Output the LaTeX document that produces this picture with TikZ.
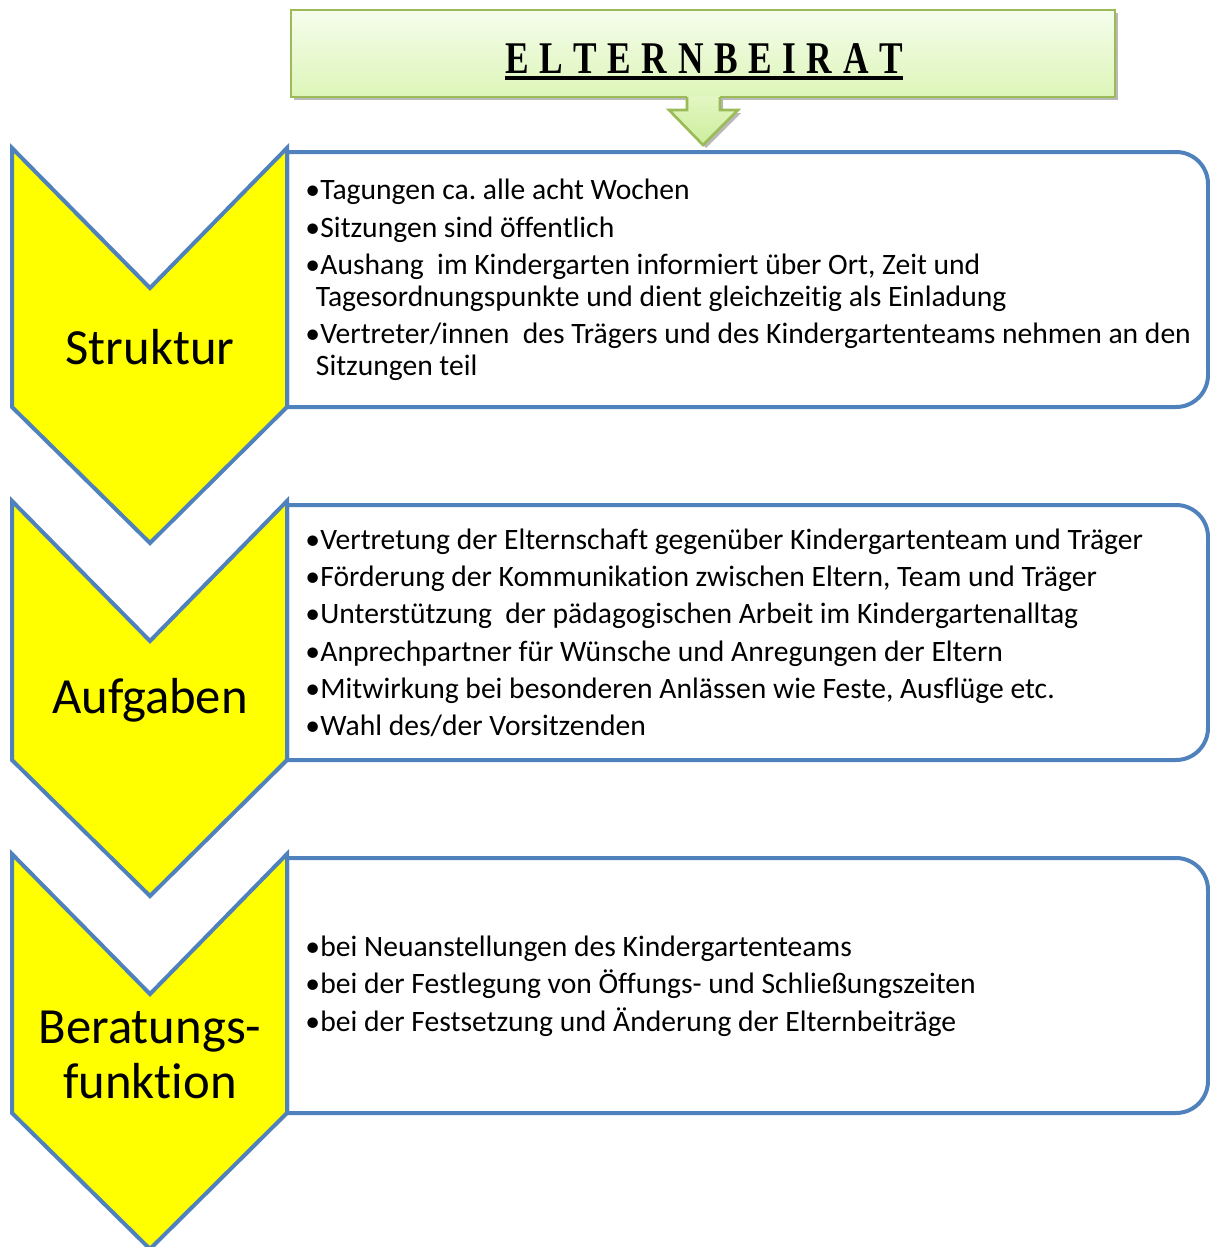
\documentclass[tikz,border=0pt]{standalone}
\usepackage{fontspec}
\usepackage{graphicx}
\setmainfont{Carlito}[Ligatures=NoCommon]
\newfontfamily\titlefont{Liberation Serif}
\frenchspacing
\definecolor{chevblue}{HTML}{4F81BD}
\definecolor{chevyellow}{HTML}{FFFF00}
\definecolor{headgreen}{HTML}{9BBB59}
\definecolor{headtop}{HTML}{F5FDEC}
\definecolor{headbot}{HTML}{DDF5B8}
\definecolor{arrowtop}{HTML}{E2F6C2}
\definecolor{arrowbot}{HTML}{CDEE9C}
\newcommand{\itm}{•\hspace{0.3pt}}
\begin{document}
\begin{tikzpicture}[x=0.75pt,y=-0.75pt,
  chevron/.style={draw=chevblue,fill=chevyellow,line width=3pt,line join=miter},
  listbox/.style={draw=chevblue,fill=white,line width=3pt},
  chevlabel/.style={font=\fontsize{38}{41}\selectfont,align=center,inner sep=0pt},
  itemtext/.style={font=\fontsize{22.2}{24}\selectfont,align=left,anchor=west,inner sep=0pt},
  headline/.style={draw=headgreen,line width=2pt,line join=miter}]
  \useasboundingbox (0,0) rectangle (1210,1247);
  % Header with shadow
  \fill[gray!55] (294,13) rectangle (1118,100);
  \shade[top color=headtop,bottom color=headbot] (291,10) rectangle (1115,97);
  \draw[headline] (291,10) rectangle (1115,97);
  \node[inner sep=0pt,anchor=base] (title) at (704,73)
    {\titlefont\bfseries\fontsize{34}{34}\selectfont\scalebox{0.78}[1]{%
      E\hspace{10.2pt}L\hspace{10.2pt}T\hspace{10.2pt}E\hspace{10.2pt}R\hspace{10.2pt}N\hspace{10.2pt}%
      B\hspace{10.2pt}E\hspace{10.2pt}I\hspace{10.2pt}R\hspace{10.2pt}A\hspace{10.2pt}T}};
  \draw[line width=3pt] ([yshift=-4pt]title.base west) -- ([yshift=-4pt]title.base east);
  % Arrow below header
  \fill[gray!55] (690,100) -- (690,113) -- (672,113) -- (706,148) -- (741,113) -- (723,113) -- (723,100) -- cycle;
  \shade[top color=arrowtop,bottom color=arrowbot]
    (687,96) -- (687,110) -- (669,110) -- (703,145) -- (738,110) -- (720,110) -- (720,96) -- cycle;
  \draw[headline] (687,97) -- (687,110) -- (669,110) -- (703,145) -- (738,110) -- (720,110) -- (720,97);
  % Row 1: Struktur
  \draw[listbox] (287,152) [rounded corners=24pt] -- (1208,152) -- (1208,407) [sharp corners] -- (287,407) -- cycle;
  \draw[chevron] (12,148) -- (150,288) -- (287,148) -- (287,407) -- (150,543) -- (12,407) -- cycle;
  \node[chevlabel] (struktur) at (150,347) {Struktur};
  \node[itemtext] (strukturtext) at (305,280) {%
    \itm Tagungen ca. alle acht Wochen\\[4pt]
    \itm Sitzungen sind öffentlich\\[4pt]
    \itm Aushang\ \ im Kindergarten informiert über Ort, Zeit und\\
    \hspace*{8pt}Tagesordnungspunkte und dient gleichzeitig als Einladung\\[4pt]
    \itm Vertreter/innen\ \ des Trägers und des Kindergartenteams nehmen an den\\
    \hspace*{8pt}Sitzungen teil};
  % Row 2: Aufgaben
  \draw[listbox] (287,505) [rounded corners=24pt] -- (1208,505) -- (1208,760) [sharp corners] -- (287,760) -- cycle;
  \draw[chevron] (12,501) -- (150,641) -- (287,501) -- (287,760) -- (150,896) -- (12,760) -- cycle;
  \node[chevlabel] (aufgaben) at (150,700) {Aufgaben};
  \node[itemtext] (aufgabentext) at (305,633) {%
    \itm Vertretung der Elternschaft gegenüber Kindergartenteam und Träger\\[4pt]
    \itm Förderung der Kommunikation zwischen Eltern, Team und Träger\\[4pt]
    \itm Unterstützung\ \ der pädagogischen Arbeit im Kindergartenalltag\\[4pt]
    \itm Anprechpartner für Wünsche und Anregungen der Eltern\\[4pt]
    \itm Mitwirkung bei besonderen Anlässen wie Feste, Ausflüge etc.\\[4pt]
    \itm Wahl des/der Vorsitzenden};
  % Row 3: Beratungsfunktion
  \draw[listbox] (287,858) [rounded corners=24pt] -- (1208,858) -- (1208,1113) [sharp corners] -- (287,1113) -- cycle;
  \draw[chevron] (12,854) -- (150,994) -- (287,854) -- (287,1113) -- (150,1249) -- (12,1113) -- cycle;
  \node[chevlabel] (beratung) at (150,1055) {Beratungs-\\funktion};
  \node[itemtext] (beratungtext) at (305,986) {%
    \itm bei Neuanstellungen des Kindergartenteams\\[4pt]
    \itm bei der Festlegung von Öffungs- und Schließungszeiten\\[4pt]
    \itm bei der Festsetzung und Änderung der Elternbeiträge};
\end{tikzpicture}
\end{document}
